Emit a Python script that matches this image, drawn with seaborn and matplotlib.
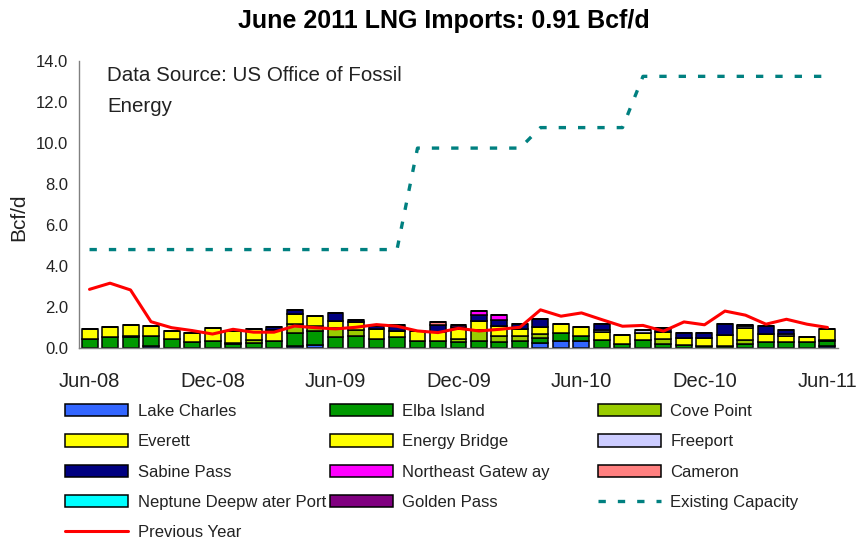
import numpy as np
import pandas as pd
import matplotlib
matplotlib.use("Agg")
import matplotlib.pyplot as plt
from matplotlib.patches import Patch
from matplotlib.lines import Line2D
import seaborn as sns

sns.set_style("white")
plt.rcParams['font.family'] = ['Liberation Sans', 'DejaVu Sans']

months = ["Jun-08", "Jul-08", "Aug-08", "Sep-08", "Oct-08", "Nov-08", "Dec-08",
          "Jan-09", "Feb-09", "Mar-09", "Apr-09", "May-09", "Jun-09", "Jul-09",
          "Aug-09", "Sep-09", "Oct-09", "Nov-09", "Dec-09", "Jan-10", "Feb-10",
          "Mar-10", "Apr-10", "May-10", "Jun-10", "Jul-10", "Aug-10", "Sep-10",
          "Oct-10", "Nov-10", "Dec-10", "Jan-11", "Feb-11", "Mar-11", "Apr-11",
          "May-11", "Jun-11"]
tick_labels = ["Jun-08", "Dec-08", "Jun-09", "Dec-09", "Jun-10", "Dec-10", "Jun-11"]

# Terminal imports, Bcf/d
lake_charles = [0, 0, 0, 0.10, 0, 0, 0, 0, 0, 0, 0.12, 0.13, 0, 0, 0, 0, 0, 0,
                0, 0, 0, 0, 0.26, 0.36, 0.36, 0, 0, 0, 0, 0, 0, 0, 0, 0, 0, 0, 0.12]
elba_island = [0.44, 0.54, 0.52, 0.48, 0.42, 0.30, 0.36, 0.18, 0.26, 0.34, 0.60, 0.72,
               0.52, 0.59, 0.42, 0.52, 0.34, 0.34, 0.30, 0.36, 0.31, 0.36, 0.24, 0.35,
               0.24, 0.40, 0.20, 0.38, 0.20, 0.15, 0.12, 0.12, 0.18, 0.28, 0.28, 0.30, 0.22]
cove_point = [0, 0, 0.08, 0, 0, 0, 0, 0.05, 0.13, 0, 0.45, 0.20,
              0.44, 0.29, 0, 0, 0, 0, 0.16, 0.52, 0.27, 0.20, 0.20, 0,
              0, 0, 0, 0, 0.22, 0, 0, 0, 0.20, 0, 0, 0, 0.05]
everett = [0.49, 0.47, 0.54, 0.48, 0.41, 0.45, 0.60, 0.60, 0.52, 0.55, 0.47, 0.50,
           0.35, 0.40, 0.52, 0.30, 0.48, 0.42, 0.45, 0.44, 0.50, 0.38, 0.30, 0.45,
           0.40, 0.40, 0.45, 0.34, 0.35, 0.35, 0.38, 0.50, 0.58, 0.39, 0.30, 0.25, 0.52]
energy_bridge = [0] * 37
freeport = [0, 0, 0, 0, 0, 0, 0, 0, 0, 0, 0, 0,
            0, 0, 0, 0, 0, 0, 0, 0, 0, 0, 0, 0,
            0, 0.10, 0, 0.15, 0, 0, 0, 0, 0.12, 0, 0.10, 0, 0]
sabine_pass = [0, 0, 0, 0, 0, 0, 0, 0, 0, 0.11, 0.22, 0,
               0.40, 0.10, 0.12, 0.28, 0, 0.38, 0.10, 0.30, 0.27, 0.22, 0.40, 0,
               0, 0.25, 0, 0, 0.22, 0.25, 0.25, 0.55, 0.05, 0.40, 0.22, 0, 0]
northeast_gateway = [0, 0, 0, 0, 0, 0, 0, 0, 0, 0, 0, 0,
                     0, 0, 0, 0, 0, 0, 0.12, 0.18, 0.25, 0, 0, 0,
                     0, 0, 0, 0, 0, 0, 0, 0, 0, 0, 0, 0, 0]
cameron = [0, 0, 0, 0, 0, 0, 0, 0, 0, 0, 0, 0,
           0, 0, 0, 0, 0, 0.13, 0, 0, 0, 0, 0, 0,
           0, 0, 0, 0, 0, 0, 0, 0, 0, 0, 0, 0, 0]
neptune = [0] * 37
golden_pass = [0] * 37

existing_capacity = [4.8] * 16 + [9.75] * 6 + [10.75] * 5 + [13.25] * 10
previous_year = [2.86, 3.16, 2.83, 1.28, 0.99, 0.85, 0.68, 0.91, 0.77, 0.77, 1.07, 0.99,
                 0.93, 1.01, 1.14, 1.06, 0.83, 0.75, 0.96, 0.83, 0.91, 1.01, 1.86, 1.55,
                 1.71, 1.38, 1.06, 1.10, 0.82, 1.27, 1.13, 1.80, 1.60, 1.16, 1.40, 1.16, 1.00]

series = [
    ("Lake Charles", lake_charles, "#3366FF"),
    ("Elba Island", elba_island, "#009900"),
    ("Cove Point", cove_point, "#99CC00"),
    ("Everett", everett, "#FFFF00"),
    ("Energy Bridge", energy_bridge, "#FFFF00"),
    ("Freeport", freeport, "#CCCCFF"),
    ("Sabine Pass", sabine_pass, "#000080"),
    ("Northeast Gatew ay", northeast_gateway, "#FF00FF"),
    ("Cameron", cameron, "#FF8080"),
    ("Neptune Deepw ater Port", neptune, "#00FFFF"),
    ("Golden Pass", golden_pass, "#800080"),
]

x = np.arange(len(months))
lines_df = pd.DataFrame({"x": x, "capacity": existing_capacity, "prev": previous_year})

fig = plt.figure(figsize=(8.57, 5.42), dpi=100)
ax = fig.add_axes([0.0925, 0.358, 0.885, 0.5295])

bottom = np.zeros(len(months))
for name, vals, color in series:
    v = np.array(vals, dtype=float)
    ax.bar(x, v, bottom=bottom, width=0.78, color=color, edgecolor="black",
           linewidth=1.1, zorder=2)
    bottom += v

sns.lineplot(data=lines_df, x="x", y="capacity", ax=ax, color="#008080",
             linewidth=2.4, zorder=3)
ax.lines[-1].set_dashes((2.2, 3.6))
sns.lineplot(data=lines_df, x="x", y="prev", ax=ax, color="#FF0000",
             linewidth=2.2, zorder=4)

ax.set_xlim(-0.5, len(months) - 0.5)
ax.set_ylim(0, 14)
ax.set_yticks(np.arange(0, 14.1, 2))
ax.set_yticklabels([f"{v:.1f}" for v in np.arange(0, 14.1, 2)], fontsize=12)
ax.set_xticks(np.arange(0, len(months), 6))
ax.set_xticklabels(tick_labels, fontsize=14.5)
ax.set_xticks(np.arange(-0.5, len(months) - 1, 6), minor=True)
ax.tick_params(axis="x", which="major", length=0, pad=17, colors="#222222")
ax.tick_params(axis="x", which="minor", length=5, color="#808080", width=1)
ax.tick_params(axis="y", which="major", length=5, width=1, pad=3, colors="#222222")
ax.tick_params(axis="y", which="major", color="#808080")
for s in ["top", "right"]:
    ax.spines[s].set_visible(False)
for s in ["left", "bottom"]:
    ax.spines[s].set_color("#808080")
    ax.spines[s].set_linewidth(1.0)
ax.set_xlabel("")
ax.set_ylabel("")
ax.grid(False)

fig.text(19 / 857, 1 - 217 / 542, "Bcf/d", rotation=90, fontsize=15,
         color="#222222", ha="center", va="center")

ax.text(0.0366, 0.896, "Data Source: US Office of Fossil\nEnergy", transform=ax.transAxes,
        fontsize=14.8, color="#222222", va="center", ha="left", linespacing=1.8)

fig.text(444 / 857, 1 - 21 / 542, "June 2011 LNG Imports: 0.91 Bcf/d",
         fontsize=18, fontweight="bold", ha="center", va="center", color="black")

patches = {name: Patch(facecolor=color, edgecolor="black", linewidth=1.1)
           for name, _, color in series}
cap_handle = Line2D([], [], color="#008080", linewidth=2.4, dashes=(2.2, 3.6))
prev_handle = Line2D([], [], color="#FF0000", linewidth=2.2)

legend_columns = [
    (65, [("Lake Charles", patches["Lake Charles"]),
          ("Everett", patches["Everett"]),
          ("Sabine Pass", patches["Sabine Pass"]),
          ("Neptune Deepw ater Port", patches["Neptune Deepw ater Port"]),
          ("Previous Year", prev_handle)]),
    (330, [("Elba Island", patches["Elba Island"]),
           ("Energy Bridge", patches["Energy Bridge"]),
           ("Northeast Gatew ay", patches["Northeast Gatew ay"]),
           ("Golden Pass", patches["Golden Pass"])]),
    (598, [("Cove Point", patches["Cove Point"]),
           ("Freeport", patches["Freeport"]),
           ("Cameron", patches["Cameron"]),
           ("Existing Capacity", cap_handle)]),
]
for x0, items in legend_columns:
    leg = fig.legend([h for _, h in items], [n for n, _ in items], ncol=1,
                     loc="upper left", bbox_to_anchor=(x0 / 857, 1 - 404 / 542),
                     frameon=False, fontsize=12, handlelength=3.8, handleheight=0.75,
                     handletextpad=0.55, labelspacing=0.92,
                     borderpad=0, borderaxespad=0)
    for t in leg.get_texts():
        t.set_color("#222222")

fig.savefig("out.png", dpi=100)
